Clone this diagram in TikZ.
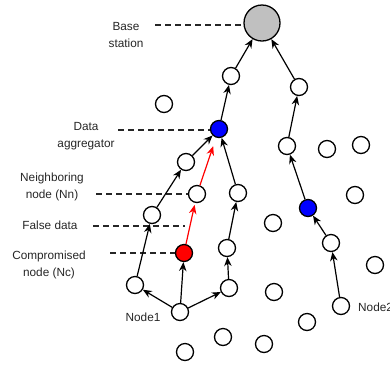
\documentclass[tikz,border=0pt]{standalone}
\usepackage{fontspec}
\setmainfont{Liberation Sans}
\usetikzlibrary{arrows.meta}
\definecolor{bsgray}{RGB}{192,192,192}
\tikzset{
  sn/.style={circle,draw=black,line width=1.3pt,fill=white,minimum size=17pt,inner sep=0pt},
  arr/.style={-{Stealth[length=9pt,width=7.5pt]},line width=1.2pt,black},
  redarr/.style={-{Stealth[length=9pt,width=7.5pt]},line width=1.2pt,red},
  lead/.style={dash pattern=on 6pt off 4pt,line width=1.2pt,black!85},
  lbl/.style={align=center,font=\fontsize{11.8}{17}\selectfont,inner sep=0pt,text=black!85}
}
\begin{document}
\begin{tikzpicture}[x=1pt,y=-1pt]
\useasboundingbox (0,0) rectangle (390,365);
% nodes
\node[sn,minimum size=36pt,fill=bsgray] (bs) at (262,23) {};
\node[sn] (a1) at (231,76) {};
\node[sn] (b1) at (299,87) {};
\node[sn,fill=blue] (agg) at (219,129) {};
\node[sn] (b2) at (287,146) {};
\node[sn] (e1) at (327,149) {};
\node[sn] (e2) at (361,145) {};
\node[sn] (f1) at (164,104) {};
\node[sn] (l3) at (186,162) {};
\node[sn] (nn) at (197,194) {};
\node[sn] (l2) at (152,215) {};
\node[sn,fill=red] (nc) at (184,253) {};
\node[sn] (l1) at (135,285) {};
\node[sn] (n1) at (180,312) {};
\node[sn] (m3) at (238,193) {};
\node[sn] (m2) at (227,248) {};
\node[sn] (m1) at (229,288) {};
\node[sn] (e3) at (273,223) {};
\node[sn,fill=blue] (bl2) at (308,208) {};
\node[sn] (e4) at (355,195) {};
\node[sn] (r2) at (331,243) {};
\node[sn] (e5) at (375,265) {};
\node[sn] (e6) at (274,292) {};
\node[sn] (n2) at (341,306) {};
\node[sn] (e7) at (223,337) {};
\node[sn] (e8) at (264,344) {};
\node[sn] (e9) at (307,322) {};
\node[sn] (e10) at (185,352) {};
% labels
\node[lbl] (tbs) at (126,35) {Base\\station};
\node[lbl] (tagg) at (86,136) {Data\\aggregator};
\node[lbl] (tnn) at (52,187) {Neighboring\\node (Nn)};
\node[lbl] (tfd) at (50,225) {False data};
\node[lbl] (tnc) at (49,265) {Compromised\\node (Nc)};
\node[lbl] (tn1) at (143,317) {Node1};
\node[lbl,anchor=west] (tn2) at (358,307) {Node2};
% leader lines
\coordinate (c1) at (155,25);
\coordinate (c2) at (118,130);
\coordinate (c3) at (96,194);
\coordinate (c4) at (93,226);
\coordinate (c5) at (185,226);
\coordinate (c6) at (110,253);
\draw[lead] (c1) -- (bs.west |- c1);
\draw[lead] (c2) -- (agg.west |- c2);
\draw[lead] (c3) -- (nn.west |- c3);
\draw[lead] (c4) -- (c5);
\draw[lead] (c6) -- (nc.west |- c6);
% connectors
\draw[arr] (n1) -- (l1);
\draw[arr] (n1) -- (nc);
\draw[arr] (n1) -- (m1);
\draw[arr] (l1) -- (l2);
\draw[arr] (l2) -- (l3);
\draw[arr] (l3) -- (agg);
\draw[redarr,shorten >=2pt] (nc) -- (nn);
\draw[redarr,shorten >=9pt] (nn) -- (agg);
\draw[arr] (m1) -- (m2);
\draw[arr] (m2) -- (m3);
\draw[arr] (m3) -- (agg);
\draw[arr] (agg) -- (a1);
\draw[arr] (a1) -- (bs);
\draw[arr] (n2) -- (r2);
\draw[arr] (r2) -- (bl2);
\draw[arr] (bl2) -- (b2);
\draw[arr] (b2) -- (b1);
\draw[arr] (b1) -- (bs);
\end{tikzpicture}
\end{document}
